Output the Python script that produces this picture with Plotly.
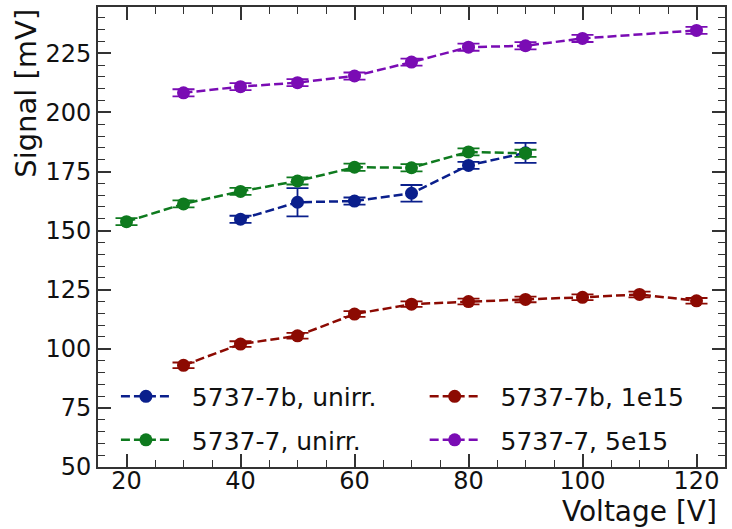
import plotly.graph_objects as go

# ---- data ----
v_blue = [40, 50, 60, 70, 80, 90]
s_blue = [154.8, 162.0, 162.5, 165.8, 177.6, 182.9]
e_blue = [1.5, 6.0, 1.5, 3.5, 1.5, 4.2]

v_green = [20, 30, 40, 50, 60, 70, 80, 90]
s_green = [153.8, 161.3, 166.6, 171.0, 176.8, 176.6, 183.3, 182.7]
e_green = [1.5, 1.5, 1.5, 1.5, 1.5, 1.5, 1.5, 1.5]

v_red = [30, 40, 50, 60, 70, 80, 90, 100, 110, 120]
s_red = [93.0, 102.0, 105.5, 114.7, 118.9, 120.0, 120.9, 121.8, 123.0, 120.3]
e_red = [1.2, 1.2, 1.2, 1.2, 1.2, 1.2, 1.2, 1.2, 1.2, 1.2]

v_purple = [30, 40, 50, 60, 70, 80, 90, 100, 120]
s_purple = [208.3, 210.9, 212.6, 215.4, 221.3, 227.6, 228.2, 231.3, 234.7]
e_purple = [1.5, 1.5, 1.5, 1.5, 1.5, 1.5, 1.5, 1.5, 1.5]

labels = ["5737-7b, unirr.", "5737-7, unirr.", "5737-7b, 1e15", "5737-7, 5e15"]
colors = ["#0a1f8c", "#0e7a1e", "#8c0a02", "#7a0cb4"]

x_ticks = [20, 40, 60, 80, 100, 120]
y_ticks = [50, 75, 100, 125, 150, 175, 200, 225]

FONT = "DejaVu Sans"
NBSP = "\u00a0\u00a0"

fig = go.Figure()
series = [
    (v_blue, s_blue, e_blue, "legend", "g1"),
    (v_green, s_green, e_green, "legend", "g2"),
    (v_red, s_red, e_red, "legend2", "g3"),
    (v_purple, s_purple, e_purple, "legend2", "g4"),
]
for i, (xv, yv, ev, lg, grp) in enumerate(series):
    fig.add_trace(go.Scatter(
        x=xv, y=yv, name=NBSP + labels[i], mode="lines+markers",
        line=dict(color=colors[i], width=2.5, dash="9px,4px"),
        marker=dict(color=colors[i], size=13),
        error_y=dict(type="data", array=ev, visible=True, color=colors[i],
                     thickness=1.8, width=11),
        legend=lg, legendgroup=grp,
    ))

axis_common = dict(
    showgrid=False, zeroline=False, showline=True, linecolor="#333333",
    linewidth=1.8, mirror="allticks", ticks="inside", ticklen=13,
    tickwidth=1.5, tickcolor="#333333",
    tickfont=dict(family=FONT, size=24, color="#111111"),
)
fig.update_xaxes(range=[15, 125], tickvals=x_ticks, ticklabelstandoff=-9,
                 minor=dict(dtick=5, ticks="inside", ticklen=7, tickwidth=1.2,
                            tickcolor="#333333"),
                 **axis_common)
fig.update_yaxes(range=[50, 244.6], tickvals=y_ticks,
                 minor=dict(dtick=5, ticks="inside", ticklen=7, tickwidth=1.2,
                            tickcolor="#333333"),
                 **axis_common)

legend_common = dict(
    bgcolor="rgba(0,0,0,0)", borderwidth=0, yanchor="top", y=0.203,
    xanchor="left", font=dict(family=FONT, size=25, color="#111111"),
    tracegroupgap=8, itemwidth=50,
)
fig.update_layout(
    width=732, height=529,
    margin=dict(l=98, r=5, t=7, b=62),
    paper_bgcolor="white", plot_bgcolor="white",
    showlegend=True,
    legend=dict(x=0.0286, **legend_common),
    legend2=dict(x=0.521, **legend_common),
    annotations=[
        dict(text="Signal [mV]", xref="paper", yref="paper", x=-0.116, y=1.0,
             xanchor="center", yanchor="top", textangle=-90, showarrow=False,
             font=dict(family=FONT, size=29, color="#111111")),
        dict(text="Voltage [V]", xref="paper", yref="paper", x=0.99, y=-0.096,
             xanchor="right", yanchor="middle", showarrow=False,
             font=dict(family=FONT, size=28, color="#111111")),
    ],
)

fig.write_html("out.html")
